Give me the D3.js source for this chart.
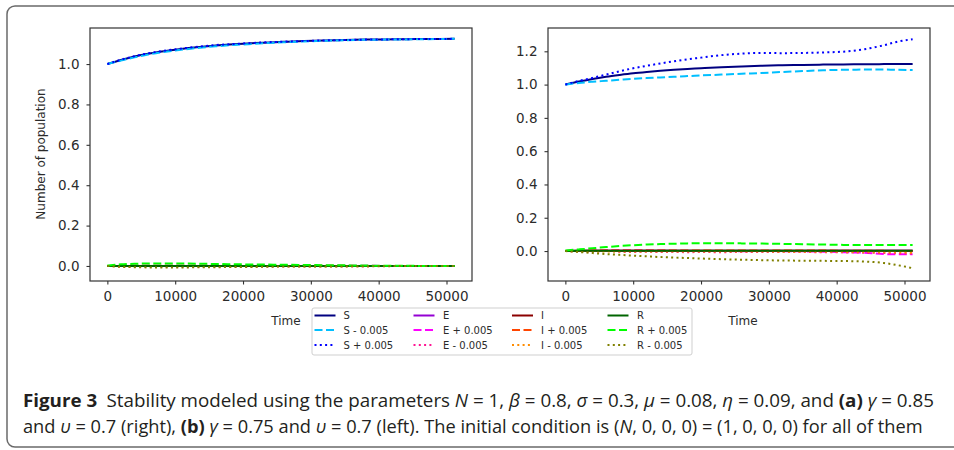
<!DOCTYPE html>
<html><head><meta charset="utf-8">
<script src="https://cdn.jsdelivr.net/npm/d3@7/dist/d3.min.js"></script>
<style>
html,body{margin:0;padding:0;background:#fff;}
svg{display:block;}
</style></head>
<body><svg id="chart" width="954" height="450"></svg>
<script>
// ---------------- DATA ----------------
const times = [0,2000,4000,6000,8000,10000,12000,14000,16000,18000,20000,23000,26000,29000,32000,35000,38000,41000,44000,47000,49000,51200];
const seriesNames = ["S","S - 0.005","S + 0.005","E","E + 0.005","E - 0.005","I","I + 0.005","I - 0.005","R","R + 0.005","R - 0.005"];
const xTicks = [0,10000,20000,30000,40000,50000];
const yTicksLeft = [0.0,0.2,0.4,0.6,0.8,1.0];
const yTicksRight = [0.0,0.2,0.4,0.6,0.8,1.0,1.2];

// left panel (b)
const leftS      = [1.000,1.020,1.037,1.051,1.062,1.071,1.079,1.086,1.092,1.097,1.101,1.106,1.110,1.114,1.117,1.119,1.121,1.122,1.123,1.124,1.1245,1.125];
const leftSminus = [1.000,1.017,1.033,1.047,1.058,1.067,1.075,1.082,1.088,1.093,1.097,1.103,1.108,1.112,1.115,1.118,1.120,1.121,1.122,1.123,1.124,1.125];
const leftSplus  = [1.000,1.021,1.039,1.053,1.064,1.073,1.081,1.088,1.094,1.098,1.102,1.107,1.111,1.114,1.117,1.119,1.121,1.122,1.123,1.124,1.124,1.125];
const leftE      = [0,0,0,0,0,0,0,0,0,0,0,0,0,0,0,0,0,0,0,0,0,0];
const leftEplus  = [0,0.001,0.001,0.001,0.001,0.001,0.001,0.001,0.001,0.001,0.001,0.001,0.001,0.001,0.001,0.001,0.001,0,0,0,0,0];
const leftEminus = [0,-0.001,-0.001,-0.001,-0.001,-0.001,-0.001,-0.001,-0.001,-0.001,-0.001,-0.001,-0.001,-0.001,-0.001,-0.001,-0.001,0,0,0,0,0];
const leftI      = [0,0,0,0,0,0,0,0,0,0,0,0,0,0,0,0,0,0,0,0,0,0];
const leftIplus  = [0,0.001,0.001,0.001,0.001,0.001,0.001,0.001,0.001,0.001,0.001,0.001,0.001,0.001,0.001,0.001,0,0,0,0,0,0];
const leftIminus = [0,-0.002,-0.002,-0.002,-0.002,-0.002,-0.002,-0.002,-0.002,-0.002,-0.002,-0.002,-0.001,-0.001,-0.001,-0.001,-0.001,0,0,0,0,0];
const leftR      = [0,0,0,0,0,0,0,0,0,0,0,0,0,0,0,0,0,0,0,0,0,0];
const leftRplus  = [0.002,0.008,0.011,0.012,0.012,0.012,0.012,0.011,0.010,0.009,0.008,0.007,0.006,0.005,0.004,0.003,0.002,0.001,0.001,0.0,0.0,0.0];
const leftRminus = [0,-0.004,-0.006,-0.007,-0.007,-0.007,-0.007,-0.006,-0.006,-0.005,-0.005,-0.004,-0.003,-0.003,-0.002,-0.002,-0.001,-0.001,0,0,0,0];

// right panel (a)
const rightS      = [1.000,1.018,1.034,1.047,1.058,1.068,1.076,1.083,1.089,1.094,1.098,1.104,1.109,1.113,1.116,1.118,1.120,1.121,1.122,1.123,1.123,1.124];
const rightSminus = [1.000,1.010,1.017,1.023,1.029,1.035,1.039,1.043,1.047,1.051,1.055,1.060,1.065,1.070,1.076,1.081,1.086,1.089,1.090,1.090,1.089,1.088];
const rightSplus  = [1.000,1.022,1.040,1.060,1.080,1.098,1.113,1.127,1.140,1.152,1.162,1.177,1.186,1.190,1.189,1.190,1.193,1.198,1.212,1.237,1.258,1.273];
const rightE      = [0,0.001,0.001,0.001,0.001,0.001,0.001,0.001,0.001,0.001,0.001,0.001,0.001,0.001,0.001,0.001,0.001,0.001,0.001,0.001,0.001,0.001];
const rightEplus  = [0,0.002,0.003,0.004,0.005,0.005,0.004,0.003,0.002,0.001,0.000,0.000,-0.001,0.000,-0.001,-0.002,-0.004,-0.007,-0.010,-0.018,-0.020,-0.020];
const rightEminus = [0,-0.002,-0.003,0.001,-0.004,-0.006,-0.004,-0.006,-0.005,-0.007,-0.006,-0.007,-0.005,-0.006,-0.005,-0.006,-0.007,-0.008,-0.010,-0.012,-0.014,-0.016];
const rightI      = [0,0.001,0.001,0.001,0.001,0.001,0.001,0.001,0.001,0.001,0.001,0.001,0.001,0.001,0.001,0.001,0.001,0.001,0.001,0.001,0.001,0.001];
const rightIplus  = [0,0.002,0.003,0.003,0.003,0.003,0.003,0.003,0.003,0.003,0.003,0.003,0.003,0.003,0.003,0.003,0.003,0.002,0.002,0.001,0.000,-0.001];
const rightIminus = [0,-0.002,-0.003,-0.003,-0.003,-0.003,-0.003,-0.003,-0.003,-0.003,-0.003,-0.003,-0.003,-0.003,-0.004,-0.004,-0.004,-0.005,-0.006,-0.008,-0.009,-0.010];
const rightR      = [0,0.002,0.002,0.002,0.002,0.002,0.002,0.002,0.002,0.002,0.002,0.002,0.002,0.002,0.002,0.002,0.002,0.002,0.002,0.002,0.002,0.002];
const rightRplus  = [0.003,0.010,0.017,0.024,0.030,0.035,0.039,0.042,0.044,0.046,0.047,0.047,0.046,0.045,0.043,0.041,0.039,0.037,0.036,0.036,0.036,0.037];
const rightRminus = [0,-0.006,-0.012,-0.018,-0.023,-0.028,-0.032,-0.036,-0.039,-0.042,-0.045,-0.049,-0.052,-0.055,-0.057,-0.058,-0.059,-0.060,-0.063,-0.072,-0.085,-0.103];

const leftSeries  = [leftS,leftSminus,leftSplus,leftE,leftEplus,leftEminus,leftI,leftIplus,leftIminus,leftR,leftRplus,leftRminus];
const rightSeries = [rightS,rightSminus,rightSplus,rightE,rightEplus,rightEminus,rightI,rightIplus,rightIminus,rightR,rightRplus,rightRminus];

// ---------------- STYLE ----------------
const colors = ["#000080","#00bfff","#0000ff","#9400d3","#ff00ff","#ff1493","#8b0000","#ff4500","#ff8c00","#006400","#00ff00","#808000"];
const DASH = "8,3.5", DOT = "2,3.3";
const dashes = [null,DASH,DOT,null,DASH,DOT,null,DASH,DOT,null,DASH,DOT];
const LW = 2;

const svg = d3.select("#chart");
const tickFont = "DejaVu Sans, sans-serif";

// outer frame
svg.append("rect").attr("x",7).attr("y",6).attr("width",980).attr("height",441)
  .attr("rx",8).attr("fill","none").attr("stroke","#6a6a6a").attr("stroke-width",1.5);

function panel(x0,x1,y0,y1,yDomain,yTicks,series){
  const x = d3.scaleLinear().domain([-2560,53760]).range([x0,x1]);
  const y = d3.scaleLinear().domain(yDomain).range([y1,y0]);
  const g = svg.append("g");
  const line = d3.line().x((d,i)=>x(times[i])).y(d=>y(d)).curve(d3.curveMonotoneX);
  series.forEach((s,k)=>{
    g.append("path").attr("d",line(s)).attr("fill","none")
      .attr("stroke",colors[k]).attr("stroke-width",LW)
      .attr("stroke-dasharray",dashes[k]).attr("stroke-linecap","butt");
  });
  g.append("rect").attr("x",x0).attr("y",y0).attr("width",x1-x0).attr("height",y1-y0)
    .attr("fill","none").attr("stroke","#333").attr("stroke-width",1.2);
  const ax = g.append("g").attr("transform",`translate(0,${y1})`)
    .call(d3.axisBottom(x).tickValues(xTicks).tickFormat(d3.format("d")).tickSize(3.5).tickPadding(7));
  const ay = g.append("g").attr("transform",`translate(${x0},0)`)
    .call(d3.axisLeft(y).tickValues(yTicks).tickFormat(d3.format(".1f")).tickSize(3.5).tickPadding(7));
  [ax,ay].forEach(a=>{
    a.select(".domain").remove();
    a.selectAll("line").attr("stroke","#333").attr("stroke-width",1.1);
    a.selectAll("text").attr("font-family",tickFont).attr("font-size",13.5).attr("fill","#2b2b2b");
  });
  return {x,y};
}

panel(90,472,28,281,[-0.0744,1.1785],yTicksLeft,leftSeries);
panel(548,930,28,281,[-0.180,1.340],yTicksRight,rightSeries);

// axis labels
svg.append("text").attr("x",286).attr("y",325).attr("text-anchor","middle")
  .attr("font-family",tickFont).attr("font-size",12).attr("fill","#2b2b2b").text("Time");
svg.append("text").attr("x",743).attr("y",325).attr("text-anchor","middle")
  .attr("font-family",tickFont).attr("font-size",12).attr("fill","#2b2b2b").text("Time");
svg.append("text").attr("transform","translate(45,154) rotate(-90)").attr("text-anchor","middle")
  .attr("font-family",tickFont).attr("font-size",12).attr("fill","#2b2b2b").text("Number of population");

// legend
const lg = svg.append("g");
lg.append("rect").attr("x",312).attr("y",308).attr("width",380).attr("height",47).attr("rx",2)
  .attr("fill","#fff").attr("stroke","#cfcfcf").attr("stroke-width",1);
const colHandle = [314.5,413.5,512,607.5];
const colText = [343.5,443,541,637];
const rowY = [315.5,330,345];
seriesNames.forEach((name,k)=>{
  const c = Math.floor(k/3), r = k%3;
  lg.append("line").attr("x1",colHandle[c]).attr("x2",colHandle[c]+21)
    .attr("y1",rowY[r]).attr("y2",rowY[r]).attr("stroke",colors[k]).attr("stroke-width",LW)
    .attr("stroke-dasharray",dashes[k]);
  lg.append("text").attr("x",colText[c]).attr("y",rowY[r]).attr("dy","0.35em")
    .attr("font-family",tickFont).attr("font-size",10).attr("fill","#2b2b2b").text(name);
});

// caption
const capFont = "'Liberation Sans Narrow','Open Sans',sans-serif";
function captionLine(yb, parts, targetW){
  const t = svg.append("text").attr("x",23).attr("y",yb).attr("font-family",capFont)
    .attr("font-size",18).attr("fill","#231f20").style("white-space","pre");
  parts.forEach(p=>{
    const s = t.append("tspan").text(p[0]);
    if(p[1]==="b") s.attr("font-weight","bold");
    if(p[1]==="i") s.attr("font-style","italic");
  });
  const w = t.node().getComputedTextLength();
  t.attr("transform",`translate(23,0) scale(${targetW/w},1) translate(-23,0)`);
}
captionLine(407,[["Figure 3","b"],["\u2002Stability modeled using the parameters "],["N","i"],[" = 1, "],["β","i"],[" = 0.8, "],["σ","i"],[" = 0.3, "],["μ","i"],[" = 0.08, "],["η","i"],[" = 0.09, and "],["(a)","b"],[" "],["γ","i"],[" = 0.85"]],912);
captionLine(433,[["and "],["υ","i"],[" = 0.7 (right), "],["(b)","b"],[" "],["γ","i"],[" = 0.75 and "],["υ","i"],[" = 0.7 (left). The initial condition is ("],["N","i"],[", 0, 0, 0) = (1, 0, 0, 0) for all of them"]],900);
</script>
</body></html>
